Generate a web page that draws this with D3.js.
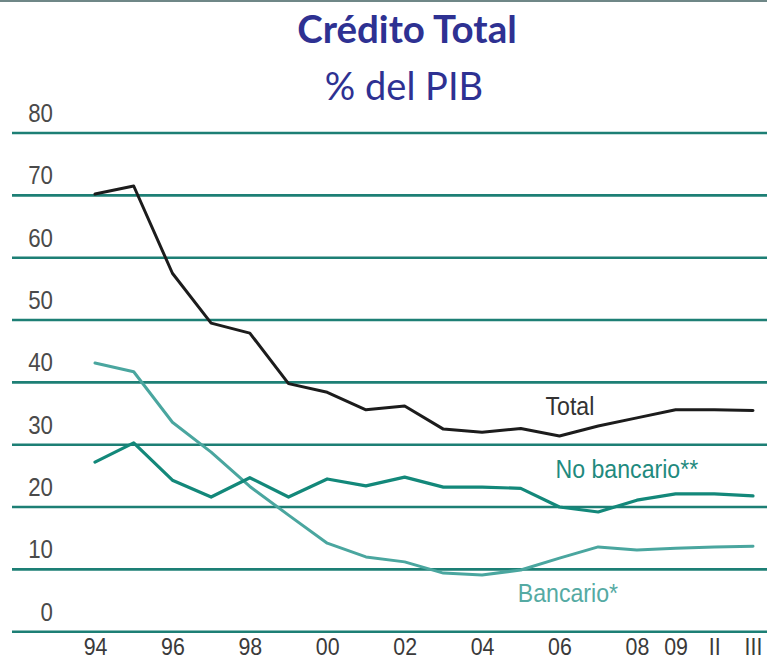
<!DOCTYPE html>
<html>
<head>
<meta charset="utf-8">
<script src="https://cdn.jsdelivr.net/npm/d3@7"></script>
<style>
  html, body { margin: 0; padding: 0; background: #fff; }
  svg { display: block; }
</style>
</head>
<body>
<svg id="chart" width="767" height="661"></svg>
<script>
// ---- data ----
const categories = ["94","95","96","97","98","99","00","01","02","03","04","05","06","07","08","09","II","III"];
const tickLabels = ["94","96","98","00","02","04","06","08","09","II","III"];
const yTicks = [0, 10, 20, 30, 40, 50, 60, 70, 80];
const total      = [70.2, 71.5, 57.5, 49.5, 47.9, 39.8, 38.4, 35.6, 36.2, 32.5, 32.0, 32.6, 31.4, 33.0, 34.3, 35.6, 35.6, 35.5];
const noBancario = [27.2, 30.3, 24.3, 21.6, 24.7, 21.6, 24.5, 23.4, 24.8, 23.2, 23.2, 23.0, 20.0, 19.2, 21.1, 22.1, 22.1, 21.8];
const bancario   = [43.1, 41.7, 33.6, 28.8, 23.3, 18.7, 14.2, 12.0, 11.2, 9.4, 9.1, 9.9, 11.8, 13.6, 13.1, 13.4, 13.6, 13.7];
const seriesNames = ["Bancario*", "No bancario**", "Total"];

const svg = d3.select("#chart");
const W = 767, H = 661;
const NARROW = 0.89;

// top border
svg.append("rect").attr("x", 0).attr("y", 0).attr("width", W).attr("height", 2).attr("fill", "#6f8787");

// titles
svg.append("text").attr("x", 407).attr("y", 43).attr("text-anchor", "middle")
  .attr("font-family", "Lato, 'Open Sans', sans-serif").attr("font-weight", 700)
  .attr("font-size", 38.5).attr("fill", "#2e3192").text("Crédito Total");
svg.append("text").attr("x", 404).attr("y", 100).attr("text-anchor", "middle")
  .attr("font-family", "Lato, 'Open Sans', sans-serif").attr("font-weight", 400)
  .attr("font-size", 38).attr("fill", "#2e3192").text("% del PIB");

// scales
const x = d3.scalePoint().domain(categories).range([95, 753]).padding(0);
const y = d3.scaleLinear().domain([0, 80]).range([631.7, 133]);

const fontAxis = "'Liberation Sans', Arial, sans-serif";

// gridlines
const grid = svg.append("g");
grid.selectAll("line").data(yTicks).join("line")
  .attr("x1", 12).attr("x2", W)
  .attr("y1", d => y(d)).attr("y2", d => y(d))
  .attr("stroke", "#1d7f75").attr("stroke-width", 2.6);

// y labels
svg.append("g").selectAll("text").data(yTicks).join("text")
  .attr("transform", d => `translate(53, ${y(d) - 11}) scale(${NARROW},1)`)
  .attr("text-anchor", "end")
  .attr("font-family", fontAxis).attr("font-size", 25).attr("fill", "#4a4a4a")
  .text(d => d);

// x labels via axis
const xAxis = d3.axisBottom(x).tickValues(tickLabels).tickSize(0).tickPadding(0);
const gx = svg.append("g").attr("transform", `translate(0, ${y(0)})`).call(xAxis);
gx.select(".domain").remove();
gx.selectAll("text")
  .attr("dy", 0).attr("y", 0)
  .attr("transform", `translate(0, 23.5) scale(${NARROW},1)`)
  .attr("font-family", fontAxis).attr("font-size", 24).attr("fill", "#3a3a3a");

// lines
const line = d3.line().x((d, i) => x(categories[i])).y(d => y(d));
const seriesData = [
  {name: seriesNames[0], values: bancario,   color: "#4aa69f", width: 3.0},
  {name: seriesNames[1], values: noBancario, color: "#13887a", width: 3.2},
  {name: seriesNames[2], values: total,      color: "#1c1c1c", width: 3.0}
];
svg.append("g").selectAll("path").data(seriesData).join("path")
  .attr("d", d => line(d.values))
  .attr("fill", "none").attr("stroke", d => d.color).attr("stroke-width", d => d.width)
  .attr("stroke-linejoin", "round").attr("stroke-linecap", "round");

// series labels
const labels = [
  {text: "Total",         at: "06", v: 34.7, dx: -14, color: "#333333"},
  {text: "No bancario**", at: "06", v: 24.7, dx: -4,  color: "#1f8a7e"},
  {text: "Bancario*",     at: "05", v: 4.8,  dx: -3,  color: "#55aaa3"}
];
svg.append("g").selectAll("text").data(labels).join("text")
  .attr("transform", d => `translate(${x(d.at) + d.dx}, ${y(d.v)}) scale(${NARROW},1)`)
  .attr("font-family", fontAxis).attr("font-size", 26).attr("fill", d => d.color)
  .text(d => d.text);
</script>
</body>
</html>
